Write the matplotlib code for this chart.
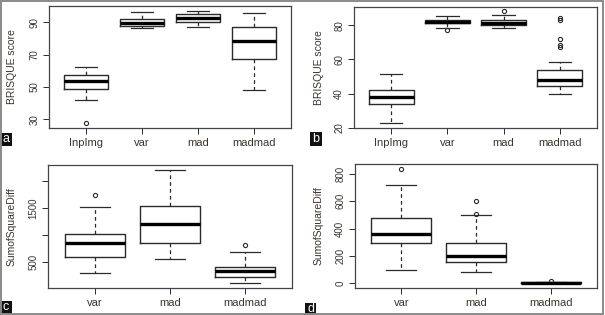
import matplotlib
matplotlib.use("Agg")
import matplotlib.pyplot as plt
from matplotlib.patches import Rectangle

plt.rcParams['font.family'] = ['Liberation Sans', 'DejaVu Sans']

# ---- data ----
cats_ab = ["InpImg", "var", "mad", "madmad"]
cats_cd = ["var", "mad", "madmad"]

# panel a: BRISQUE score
a_whislo = [42.0, 86.3, 87.1, 48.4]
a_q1 = [48.6, 88.1, 90.6, 67.7]
a_med = [53.9, 89.8, 92.5, 78.7]
a_q3 = [57.8, 92.3, 95.2, 87.5]
a_whishi = [62.4, 96.4, 97.4, 95.6]
a_fliers = [[27.5], [], [], []]

# panel b: BRISQUE score
b_whislo = [22.7, 78.5, 78.5, 40.0]
b_q1 = [34.2, 81.3, 80.2, 44.8]
b_med = [38.1, 81.9, 81.0, 48.1]
b_q3 = [41.9, 83.3, 83.1, 53.7]
b_whishi = [51.5, 85.4, 86.2, 58.7]
b_fliers = [[], [77.3], [88.0], [84.0, 83.0, 72.0, 68.5, 67.5]]

# panel c: SumofSquareDiff
c_whislo = [287, 562, 100]
c_q1 = [587, 856, 225]
c_med = [856, 1200, 331]
c_q3 = [1012, 1544, 412]
c_whishi = [1512, 2212, 687]
c_fliers = [[1737], [], [806]]

# panel d: SumofSquareDiff
d_whislo = [96, 86, 0]
d_q1 = [296, 153, 2]
d_med = [362, 200, 5]
d_q3 = [480, 296, 8]
d_whishi = [714, 500, 10]
d_fliers = [[837], [601, 505], [14]]

panels = [
    ("a", cats_ab, a_whislo, a_q1, a_med, a_q3, a_whishi, a_fliers, "BRISQUE score",
     [30, 50, 70, 90], ["30", "50", "70", "90"]),
    ("b", cats_ab, b_whislo, b_q1, b_med, b_q3, b_whishi, b_fliers, "BRISQUE score",
     [20, 40, 60, 80], ["20", "40", "60", "80"]),
    ("c", cats_cd, c_whislo, c_q1, c_med, c_q3, c_whishi, c_fliers, "SumofSquareDiff",
     [500, 1000, 1500, 2000], ["500", "", "1500", ""]),
    ("d", cats_cd, d_whislo, d_q1, d_med, d_q3, d_whishi, d_fliers, "SumofSquareDiff",
     [0, 200, 400, 600, 800], ["0", "200", "400", "600", "800"]),
]

W, H = 605, 315
fig = plt.figure(figsize=(W / 100, H / 100), dpi=100)

# axes boxes in pixels: left, right, top, bottom
boxes_px = [(49, 291, 6, 128), (354, 597, 7, 128), (48, 292, 165, 288), (355, 597, 164, 288)]
label_px = [(0, 133, 12, 13), (310, 132, 12, 14), (0, 301, 12, 13), (305, 303, 11, 12)]
ylabel_x = [-0.132, -0.123, -0.127, -0.128]

ink = "#2b2b2b"
txt = "#3a3530"

for i, (lab, cats, wl, q1, med, q3, wh, fl, ylab, yt, ytl) in enumerate(panels):
    l, r, t, b = boxes_px[i]
    ax = fig.add_axes([l / W, 1 - b / H, (r - l) / W, (b - t) / H])
    stats = []
    for j, c in enumerate(cats):
        stats.append(dict(label=c, whislo=wl[j], q1=q1[j], med=med[j], q3=q3[j],
                          whishi=wh[j], fliers=fl[j]))
    ax.bxp(stats, widths=0.8, showfliers=True, patch_artist=False,
           boxprops=dict(color=ink, linewidth=1.0),
           medianprops=dict(color="black", linewidth=2.4, solid_capstyle="butt"),
           whiskerprops=dict(color=ink, linewidth=0.9, linestyle=(0, (3, 2.5))),
           capprops=dict(color=ink, linewidth=0.9),
           capwidths=0.4,
           flierprops=dict(marker="o", markersize=3, markerfacecolor="none",
                           markeredgecolor=ink, markeredgewidth=0.8))
    n = len(cats)
    ax.set_xlim(0.5 - 0.04 * n, n + 0.5 + 0.04 * n)
    allv = wl + wh + [v for f in fl for v in f]
    lo, hi = min(allv), max(allv)
    ext = 0.04 * (hi - lo)
    ax.set_ylim(lo - ext, hi + ext)
    ax.set_yticks(yt)
    ax.set_yticklabels(ytl, rotation=90, va="center", fontsize=7, color=txt)
    ax.set_xticks(range(1, n + 1))
    ax.set_xticklabels(cats, fontsize=8, color=txt)
    ax.tick_params(axis="both", direction="out", length=4, width=0.7, color=ink, pad=3)
    ax.set_ylabel(ylab, fontsize=7.5, color=txt)
    ax.yaxis.set_label_coords(ylabel_x[i], 0.5)
    for s in ax.spines.values():
        s.set_color("#444444")
        s.set_linewidth(0.9)

    # panel letter box
    lx, ly, lw, lh = label_px[i]
    fig.patches.append(Rectangle((lx / W, 1 - (ly + lh) / H), lw / W, lh / H,
                                 transform=fig.transFigure, facecolor="#111111",
                                 edgecolor="none"))
    fig.text((lx + lw / 2) / W, 1 - (ly + lh / 2) / H, lab, color="white",
             fontsize=9, ha="center", va="center")

# outer gray frame
fig.patches.append(Rectangle((0.8 / W, 0.8 / H), (W - 3) / W, (H - 2) / H,
                             transform=fig.transFigure, facecolor="none",
                             edgecolor="#8a8a8a", linewidth=1.4))

fig.savefig("out.png", dpi=100)
